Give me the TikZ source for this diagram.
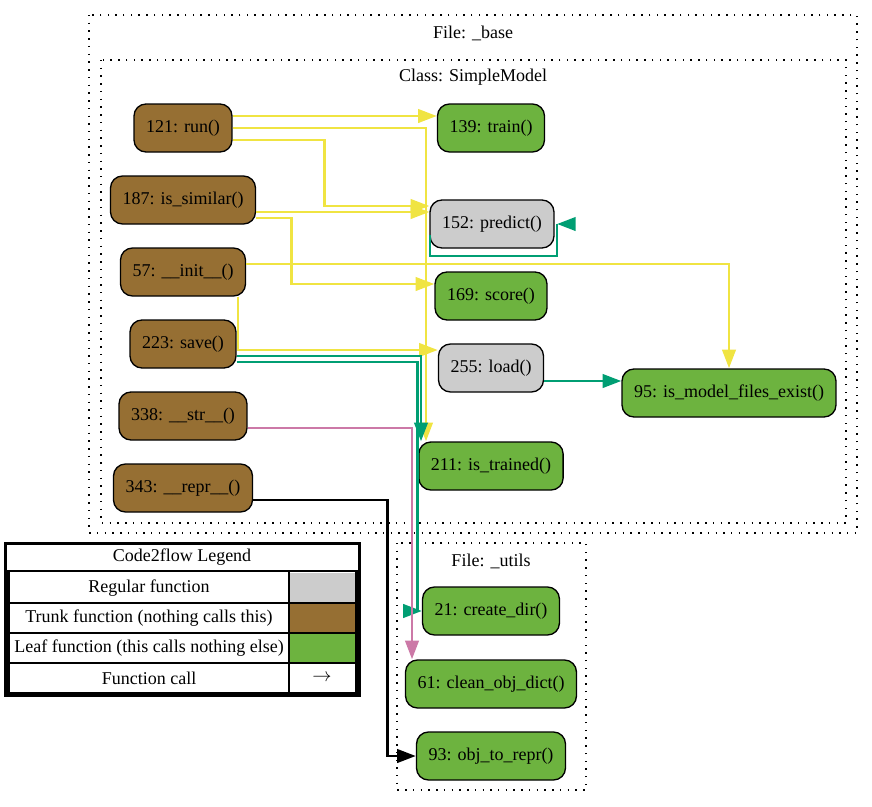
\documentclass[tikz,border=0pt]{standalone}
\usepackage{fontspec}
\setmainfont{Liberation Serif}
\usetikzlibrary{arrows.meta,calc}
\definecolor{trunk}{HTML}{966F33}
\definecolor{leaf}{HTML}{6DB33F}
\definecolor{regular}{HTML}{CCCCCC}
\definecolor{eyellow}{HTML}{F0E442}
\definecolor{egreen}{HTML}{009E73}
\definecolor{epink}{HTML}{CC79A7}
\begin{document}
\begin{tikzpicture}[x=0.75pt,y=-0.75pt,
  every node/.style={font=\fontsize{13.5pt}{16pt}\selectfont},
  fn/.style={draw, line width=1pt, rounded corners=9pt, minimum height=36pt, minimum width=72pt, inner xsep=9pt, inner ysep=0pt},
  trunkfn/.style={fn, fill=trunk},
  leaffn/.style={fn, fill=leaf},
  regfn/.style={fn, fill=regular},
  clusterbox/.style={draw, line width=1.1pt, dash pattern=on 1.1pt off 4.7pt},
  callarrow/.style={line width=2.2pt, -{Triangle[length=14pt,width=10pt]}},
  ye/.style={callarrow, draw=eyellow},
  gr/.style={callarrow, draw=egreen},
  pk/.style={callarrow, draw=epink},
  bk/.style={callarrow, draw=black},
  legline/.style={line width=1.5pt},
]
\useasboundingbox (0,0) rectangle (872,807);

% clusters
\draw[clusterbox] (89,15) rectangle (857,533);
\node (lbase) at (473,33) {File: \_base};
\draw[clusterbox] (101,60) rectangle (846,523);
\node (lclass) at (473,77) {Class: SimpleModel};
\draw[clusterbox] (397,543) rectangle (586,790);
\node (lutils) at (491,561) {File: \_utils};

% nodes
\node[trunkfn] (run) at (183,128) {121: run()};
\node[trunkfn] (similar) at (183,200) {187: is\_similar()};
\node[trunkfn] (init) at (183,272) {57: \_\_init\_\_()};
\node[trunkfn] (save) at (183,344) {223: save()};
\node[trunkfn] (str) at (183,416) {338: \_\_str\_\_()};
\node[trunkfn] (repr) at (183,488) {343: \_\_repr\_\_()};

\node[leaffn] (train) at (491,128) {139: train()};
\node[regfn] (predict) at (492,224) {152: predict()};
\node[leaffn] (score) at (491,296) {169: score()};
\node[regfn] (load) at (491,368) {255: load()};
\node[leaffn] (modelfiles) at (729,393) {95: is\_model\_files\_exist()};
\node[leaffn] (trained) at (491,466) {211: is\_trained()};

\node[leaffn] (createdir) at (491,611) {21: create\_dir()};
\node[leaffn] (clean) at (491,684) {61: clean\_obj\_dict()};
\node[leaffn] (objrepr) at (491,756) {93: obj\_to\_repr()};

% edges
\draw[ye] ($(run.east)+(0,-12)$) -- ($(train.west)+(0,-12)$);
\draw[ye] (run.east) -| ($(trained.north)+(-65,0)$);
\draw[ye] ($(run.east)+(0,12)$) -- ++(92,0) |- ($(predict.west)+(0,-18)$);
\draw[ye] ($(similar.east)+(0,12)$) -- ($(predict.west)+(0,-12)$);
\draw[ye] ($(similar.east)+(0,18)$) -- ++(35,0) |- ($(score.west)+(0,-12)$);
\draw[ye] ($(init.east)+(0,-8)$) -| (modelfiles.north);
\draw[ye] ($(init.south)+(55,0)$) |- ($(load.west)+(0,-18)$);

\draw[gr] ($(save.east)+(0,12)$) -| ($(trained.north)+(-70,0)$);
\draw[gr] ($(save.east)+(0,18)$) -- ++(181,0) |- (createdir.west);
\draw[gr] ($(load.east)+(0,13)$) -- ($(modelfiles.west)+(0,-12)$);

\draw[gr,-] ($(predict.center)+(-62,11)$) -- ++(0,21) -- ++(127,0) -- ++(0,-32);
\draw[gr] ($(predict.center)+(80,0)$) -- ($(predict.center)+(65,0)$);

\draw[pk] ($(str.east)+(0,12)$) -| ($(clean.north)+(-79,0)$);
\draw[bk] ($(repr.east)+(0,12)$) -- ++(134,0) |- (objrepr.west);

% legend
\fill[regular] (290,573) rectangle (355.5,601.5);
\fill[trunk] (290,603.5) rectangle (355.5,631.5);
\fill[leaf] (290,633.5) rectangle (355.5,661.5);
\draw[line width=1.6pt] (5.5,543.5) rectangle (359.5,696);
\draw[line width=1.6pt] (8.5,571) rectangle (356.5,693.5);
\draw[legline] (8.5,602.5) -- (356.5,602.5);
\draw[legline] (8.5,632.5) -- (356.5,632.5);
\draw[legline] (8.5,662.5) -- (356.5,662.5);
\draw[legline] (289,571) -- (289,693.5);
\node (legtitle) at (182,557) {Code2flow Legend};
\node (legreg) at (149,588) {Regular function};
\node (legtrunk) at (149,618) {Trunk function (nothing calls this)};
\node (legleaf) at (149,648) {Leaf function (this calls nothing else)};
\node (legcall) at (149,678) {Function call};
\node (legarrow) at (322,678) {$\rightarrow$};
\end{tikzpicture}
\end{document}
